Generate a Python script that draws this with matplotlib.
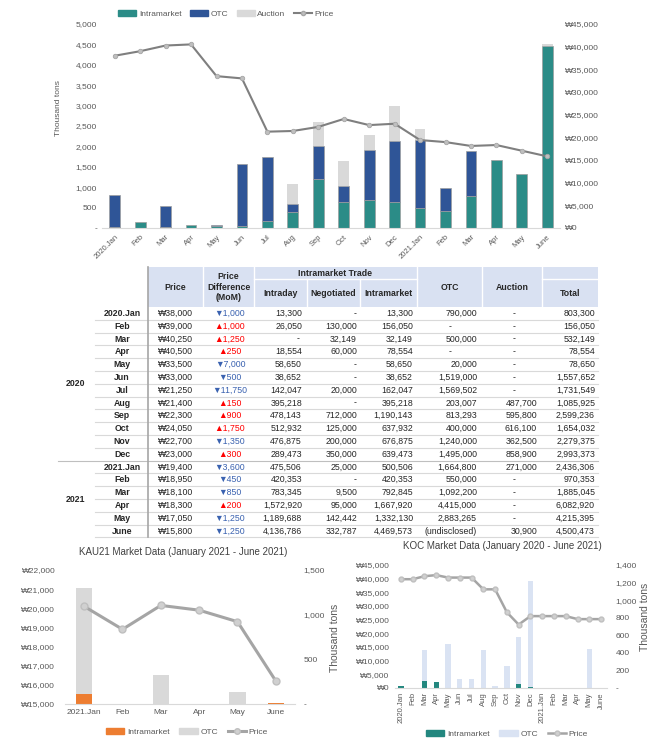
import matplotlib
matplotlib.use("Agg")
import matplotlib.pyplot as plt
from matplotlib.lines import Line2D
from matplotlib.patches import Patch, Rectangle
import numpy as np

plt.rcParams['font.family'] = ['Liberation Sans', 'DejaVu Sans']

# Monthly data, Jan 2020 - June 2021
months = ["2020.Jan", "Feb", "Mar", "Apr", "May", "Jun", "Jul", "Aug", "Sep",
          "Oct", "Nov", "Dec", "2021.Jan", "Feb", "Mar", "Apr", "May", "June"]
price = [38000, 39000, 40250, 40500, 33500, 33000, 21250, 21400, 22300,
         24050, 22700, 23000, 19400, 18950, 18100, 18300, 17050, 15800]
price_diff = [-1000, 1000, 1250, 250, -7000, -500, -11750, 150, 900,
              1750, -1350, 300, -3600, -450, -850, 200, -1250, -1250]
intraday = [13300, 26050, None, 18554, 58650, 38652, 142047, 395218, 478143,
            512932, 476875, 289473, 475506, 420353, 783345, 1572920, 1189688, 4136786]
negotiated = [None, 130000, 32149, 60000, None, None, 20000, None, 712000,
              125000, 200000, 350000, 25000, None, 9500, 95000, 142442, 332787]
intramarket = [13300, 156050, 32149, 78554, 58650, 38652, 162047, 395218, 1190143,
               637932, 676875, 639473, 500506, 420353, 792845, 1667920, 1332130, 4469573]
otc = [790000, None, 500000, None, 20000, 1519000, 1569502, 203007, 813293,
       400000, 1240000, 1495000, 1664800, 550000, 1092200, 4415000, 2883265, "(undisclosed)"]
auction = [None, None, None, None, None, None, None, 487700, 595800,
           616100, 362500, 858900, 271000, None, None, None, None, 30900]
total = [803300, 156050, 532149, 78554, 78650, 1557652, 1731549, 1085925, 2599236,
         1654032, 2279375, 2993373, 2436306, 970353, 1885045, 6082920, 4215395, 4500473]

# Top chart bars (thousand tons)
top_intra = [13.3, 156.05, 32.149, 78.554, 58.65, 38.652, 162.047, 395.218, 1190.143,
             637.932, 676.875, 639.473, 500.506, 420.353, 792.845, 1667.92, 1332.13, 4469.573]
top_otc = [790, 0, 500, 0, 20, 1519, 1569.502, 203.007, 813.293,
           400, 1240, 1495, 1664.8, 550, 1092.2, 0, 0, 0]
top_auction = [0, 0, 0, 0, 0, 0, 0, 487.7, 595.8,
               616.1, 362.5, 858.9, 271, 0, 0, 0, 0, 30.9]

# KAU21 chart
kau_months = ["2021.Jan", "Feb", "Mar", "Apr", "May", "June"]
kau_intra = [115, 0, 0, 0, 0, 10]
kau_otc = [1187, 0, 327, 0, 130, 0]
kau_price = [20100, 18900, 20150, 19900, 19300, 16200]

# KOC chart
koc_intra = [19, 0, 76, 64, 0, 0, 0, 0, 0, 0, 42, 8, 0, 0, 0, 0, 0, 0]
koc_otc = [0, 0, 359, 0, 496, 106, 106, 428, 19, 253, 544, 1214, 0, 0, 0, 0, 446, 0]
koc_price = [39800, 39800, 40900, 41300, 40400, 40400, 40400, 36100, 36100,
             27700, 23200, 26300, 26300, 26300, 26300, 25200, 25200, 25200]

TEAL = '#2B8C87'
BLUE = '#2F5597'
LGRAY = '#D9D9D9'
TXT = '#595959'

W, H = 659, 744
fig = plt.figure(figsize=(W / 100, H / 100), dpi=100)


def box(x0, y0, x1, y1):
    return [x0 / W, 1 - y1 / H, (x1 - x0) / W, (y1 - y0) / H]


def clean(a):
    for s in a.spines.values():
        s.set_visible(False)
    a.spines['bottom'].set_visible(True)
    a.spines['bottom'].set_color(LGRAY)
    a.tick_params(length=0, colors=TXT, labelsize=6)


def edges(vals):
    return ['#9E9E9E' if v > 0 else 'none' for v in vals]


# ---------------- top chart ----------------
ax = fig.add_axes(box(102, 24, 560, 228))
x = np.arange(len(months))
bot2 = np.add(top_intra, top_otc)
ax.bar(x, top_intra, 0.42, color=TEAL, edgecolor=edges(top_intra), lw=0.5)
ax.bar(x, top_otc, 0.42, bottom=top_intra, color=BLUE, edgecolor=edges(top_otc), lw=0.5)
ax.bar(x, top_auction, 0.42, bottom=bot2, color=LGRAY, edgecolor='none')
ax.set_xlim(-0.5, 17.5)
ax.set_ylim(0, 5000)
ax.set_yticks(range(0, 5001, 500))
ax.set_yticklabels(['-'] + [f'{v:,}' for v in range(500, 5001, 500)])
ax.set_xticks(x)
ax.set_xticklabels(months, rotation=45, ha='right', rotation_mode='anchor')
clean(ax)
ax.tick_params(axis='x', labelsize=5.5, pad=4)
ax.set_ylabel('Thousand tons', fontsize=6, color=TXT)
ax.yaxis.set_label_coords(-0.087, 0.59)

axp = ax.twinx()
axp.plot(x, price, color='#7F7F7F', lw=1.5, marker='o', ms=3.2,
         mfc='#BFBFBF', mec='#A6A6A6', mew=0.6)
axp.set_ylim(0, 45000)
axp.set_yticks(range(0, 45001, 5000))
axp.set_yticklabels([f'₩{v:,}' for v in range(0, 45001, 5000)])
clean(axp)
axp.spines['bottom'].set_visible(False)

h_top = [Patch(color=TEAL), Patch(color=BLUE), Patch(color=LGRAY),
         Line2D([], [], color='#7F7F7F', lw=1.5, marker='o', ms=3, mfc='#BFBFBF', mec='#A6A6A6')]
fig.legend(h_top, ['Intramarket', 'OTC', 'Auction', 'Price'], loc='center',
           bbox_to_anchor=(226 / W, 1 - 14 / H), ncol=4, frameon=False, fontsize=6,
           handlelength=2.2, handleheight=0.7, columnspacing=1.0, handletextpad=0.3,
           labelcolor=TXT)

# ---------------- table ----------------
tab = fig.add_axes([0, 0, 1, 1])
tab.set_xlim(0, W)
tab.set_ylim(H, 0)
tab.axis('off')

top_y, head_y, mid_y = 267, 307, 279
row_h = 12.8
tab.add_patch(Rectangle((148, top_y), 598 - 148, head_y - top_y, color='#D9E1F2', lw=0))
for bx in [203, 254, 417, 482, 542]:
    tab.plot([bx, bx], [top_y, head_y], color='white', lw=1)
for bx in [307, 360]:
    tab.plot([bx, bx], [mid_y, head_y], color='white', lw=1)
tab.plot([254, 417], [mid_y, mid_y], color='white', lw=1)
tab.plot([542, 598], [mid_y, mid_y], color='white', lw=1)

hd = dict(fontsize=6.3, fontweight='bold', color='#262626', ha='center', va='center')
tab.text(175.5, 287, 'Price', **hd)
tab.text(228.5, 287, 'Price\nDifference\n(MoM)', linespacing=1.25, **hd)
tab.text(335.5, 273, 'Intramarket Trade', **hd)
tab.text(280.5, 293, 'Intraday', **hd)
tab.text(333.5, 293, 'Negotiated', **hd)
tab.text(388.5, 293, 'Intramarket', **hd)
tab.text(449.5, 287, 'OTC', **hd)
tab.text(512, 287, 'Auction', **hd)
tab.text(570, 293, 'Total', **hd)

cell = dict(fontsize=6.3, color='#262626', va='center')
for i, m in enumerate(months):
    yc = head_y + row_h * (i + 0.5)
    tab.text(122, yc, m, ha='center', fontweight='bold', **cell)
    tab.text(175.5, yc, f'₩{price[i]:,}', ha='center', **cell)
    d = price_diff[i]
    mark = '▲' if d > 0 else '▼'
    dcol = '#FF0000' if d > 0 else '#3A62B0'
    tab.text(230, yc, f'{mark}{abs(d):,}', ha='center', fontsize=6.3, va='center', color=dcol)
    for vals, right, dash_x in [(intraday, 302, 298), (negotiated, 357, 355),
                                (intramarket, 413, 410), (otc, 477, 450),
                                (auction, 537, 514), (total, 595, 592)]:
        v = vals[i]
        if v is None:
            tab.text(dash_x, yc, '-', ha='center', **cell)
        elif isinstance(v, str):
            tab.text(right, yc, v, ha='right', **cell)
        else:
            tab.text(right, yc, f'{v:,}', ha='right', **cell)
    yl = head_y + row_h * (i + 1)
    if i == 11:
        tab.plot([58, 598], [yl, yl], color='#BFBFBF', lw=0.8)
    else:
        tab.plot([95, 598], [yl, yl], color=LGRAY, lw=0.8)
tab.plot([148, 148], [top_y, head_y + row_h * 18], color='#A6A6A6', lw=1.2)
tab.text(75, head_y + row_h * 6, '2020', ha='center', fontweight='bold', **cell)
tab.text(75, head_y + row_h * 15, '2021', ha='center', fontweight='bold', **cell)

# ---------------- KAU21 chart ----------------
ak = fig.add_axes(box(65, 570, 295, 704))
akp = ak.twinx()
k = np.arange(len(kau_months))
ak.bar(k, kau_intra, 0.42, color='#ED7D31')
ak.bar(k, kau_otc, 0.42, bottom=kau_intra, color=LGRAY)
ak.set_xlim(-0.5, 5.5)
ak.set_ylim(0, 1500)
ak.set_yticks([0, 500, 1000, 1500])
ak.set_yticklabels(['-', '500', '1,000', '1,500'])
ak.set_xticks(k)
ak.set_xticklabels(kau_months)
clean(ak)
ak.yaxis.tick_right()
ak.tick_params(axis='y', pad=6)

akp.plot(k, kau_price, color='#A5A5A5', lw=2.2, marker='o', ms=5,
         mfc='#D0D0D0', mec='#BFBFBF')
akp.set_ylim(15000, 22000)
akp.set_yticks(range(15000, 22001, 1000))
akp.set_yticklabels([f'₩{v:,}' for v in range(15000, 22001, 1000)])
clean(akp)
akp.yaxis.tick_left()
akp.spines['bottom'].set_visible(False)
akp.tick_params(axis='y', pad=7)
fig.text(183 / W, 1 - 552 / H, 'KAU21 Market Data (January 2021 - June 2021)',
         ha='center', va='center', fontsize=7, color='#404040')
h_kau = [Patch(color='#ED7D31'), Patch(color=LGRAY),
         Line2D([], [], color='#A5A5A5', lw=2.2, marker='o', ms=4, mfc='#D0D0D0', mec='#BFBFBF')]
fig.legend(h_kau, ['Intramarket', 'OTC', 'Price'], loc='center',
           bbox_to_anchor=(187 / W, 1 - 732 / H), ncol=3, frameon=False, fontsize=6,
           handlelength=2.2, handleheight=0.7, columnspacing=1.2, handletextpad=0.3,
           labelcolor=TXT)

# ---------------- KOC chart ----------------
ac = fig.add_axes(box(395, 565, 607, 688))
acp = ac.twinx()
ac.bar(x, koc_intra, 0.45, color='#23877F')
ac.bar(x, koc_otc, 0.45, bottom=koc_intra, color='#DAE3F3')
ac.set_xlim(-0.5, 17.5)
ac.set_ylim(0, 1400)
ac.set_yticks(range(0, 1401, 200))
ac.set_yticklabels(['-'] + [f'{v:,}' for v in range(200, 1401, 200)])
ac.set_xticks(x)
ac.set_xticklabels(months, rotation=90)
clean(ac)
ac.yaxis.tick_right()
ac.tick_params(axis='x', labelsize=5.5, pad=3)
ac.tick_params(axis='y', pad=6)

acp.plot(x, koc_price, color='#A5A5A5', lw=1.8, marker='o', ms=3.5,
         mfc='#D0D0D0', mec='#BFBFBF')
acp.set_ylim(0, 45000)
acp.set_yticks(range(0, 45001, 5000))
acp.set_yticklabels([f'₩{v:,}' for v in range(0, 45001, 5000)])
clean(acp)
acp.yaxis.tick_left()
acp.spines['bottom'].set_visible(False)
acp.tick_params(axis='y', pad=4)
fig.text(502 / W, 1 - 546 / H, 'KOC Market Data (January 2020 - June 2021)',
         ha='center', va='center', fontsize=7, color='#404040')
fig.text(335 / W, 1 - 638 / H, 'Thousand tons', rotation=90, ha='center', va='center',
         fontsize=7.5, color=TXT)
fig.text(645 / W, 1 - 617 / H, 'Thousand tons', rotation=90, ha='center', va='center',
         fontsize=7.5, color=TXT)
h_koc = [Patch(color='#23877F'), Patch(color='#DAE3F3'),
         Line2D([], [], color='#A5A5A5', lw=1.8, marker='o', ms=3.5, mfc='#D0D0D0', mec='#BFBFBF')]
fig.legend(h_koc, ['Intramarket', 'OTC', 'Price'], loc='center',
           bbox_to_anchor=(507 / W, 1 - 734 / H), ncol=3, frameon=False, fontsize=6,
           handlelength=2.2, handleheight=0.7, columnspacing=1.2, handletextpad=0.3,
           labelcolor=TXT)

fig.savefig('out.png', dpi=100)
